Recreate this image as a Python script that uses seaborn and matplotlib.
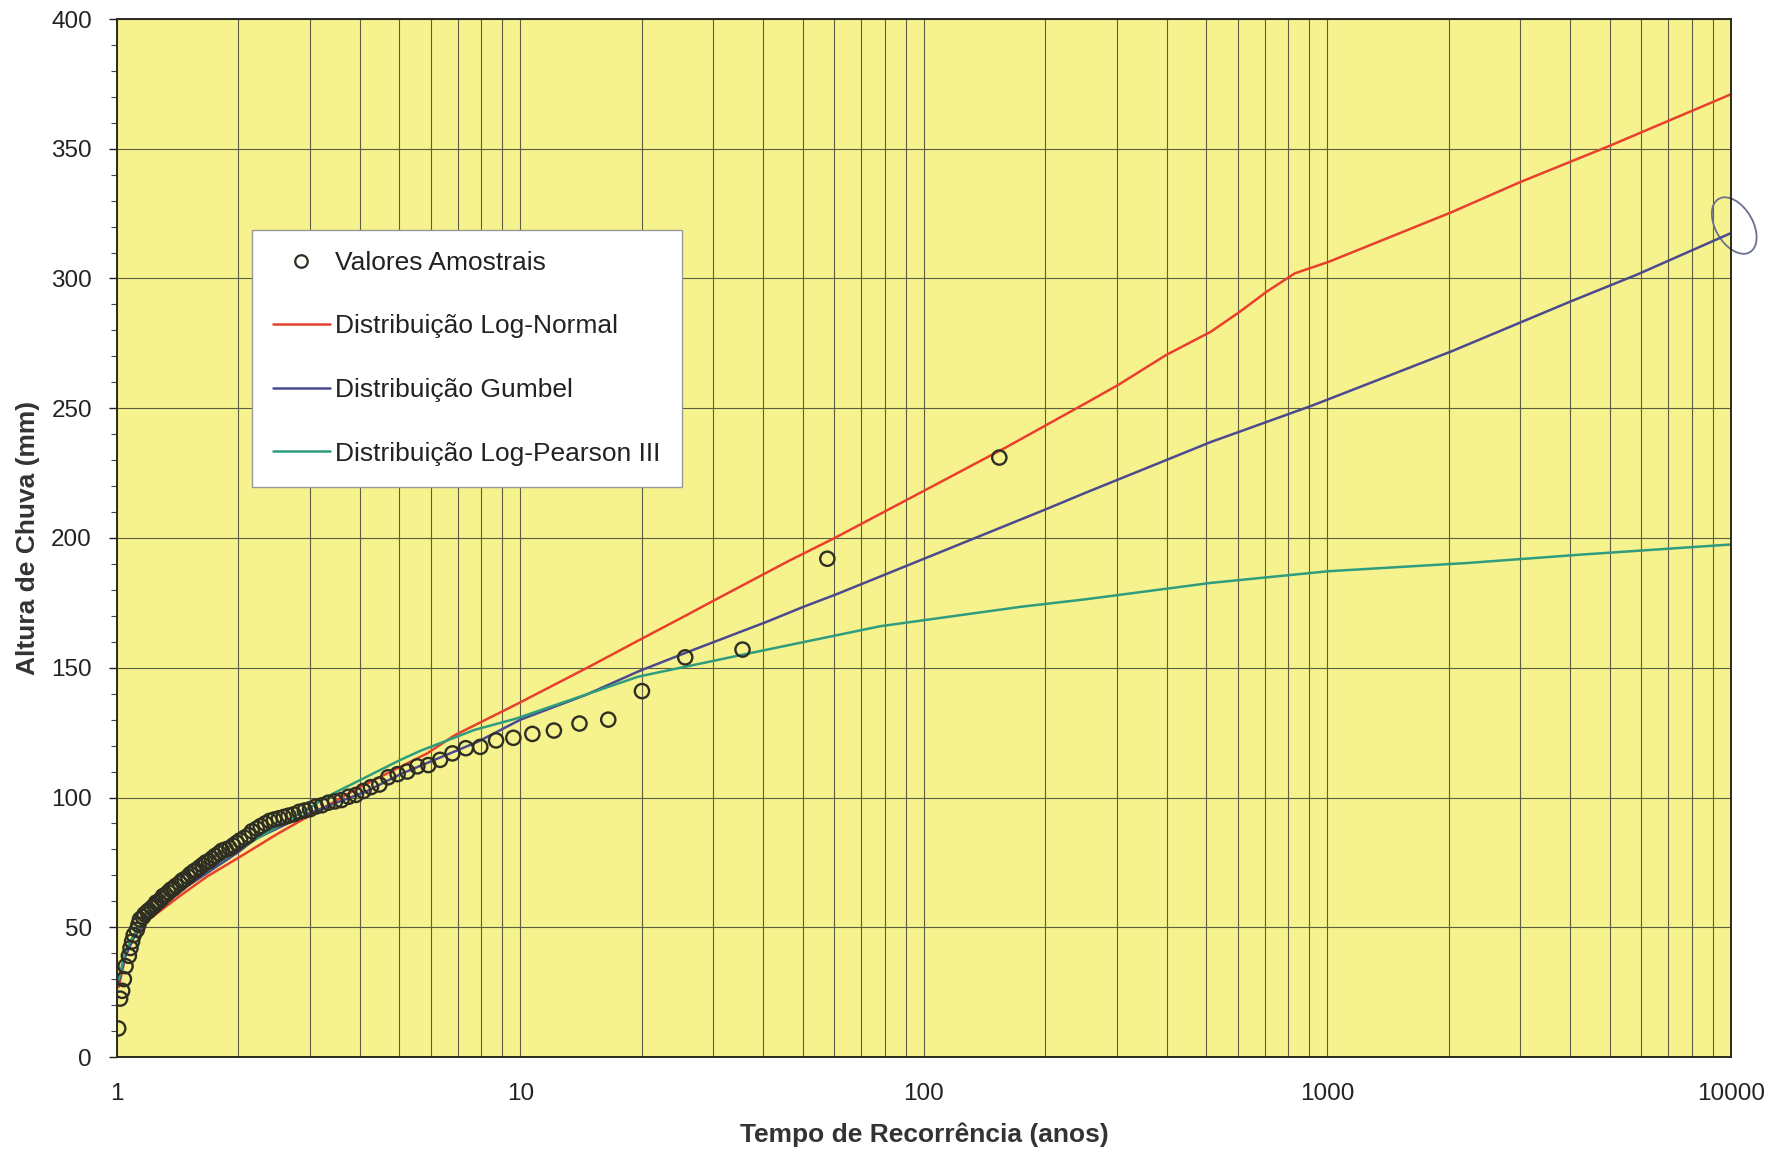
import matplotlib
matplotlib.use("Agg")
import matplotlib.pyplot as plt
import seaborn as sns
import numpy as np
import pandas as pd
from matplotlib.lines import Line2D
from matplotlib.patches import Ellipse
from matplotlib.ticker import FixedLocator, NullFormatter, FuncFormatter

# ---------------- data ----------------
# sample values (return period in years, rainfall depth in mm)
sample_T = [153.7, 57.6, 35.5, 25.6, 20.0, 16.5, 14.0, 12.1, 10.7, 9.6,
            8.70, 7.95, 7.32, 6.78, 6.32, 5.91, 5.55, 5.24, 4.96, 4.70,
            4.47, 4.26, 4.08, 3.91, 3.75, 3.60, 3.47, 3.34, 3.22, 3.11,
            3.01, 2.92, 2.83, 2.74, 2.66, 2.59, 2.52, 2.45, 2.39, 2.33,
            2.27, 2.22, 2.16, 2.12, 2.07, 2.02, 1.98, 1.94, 1.90, 1.86,
            1.82, 1.79, 1.75, 1.72, 1.69, 1.66, 1.63, 1.60, 1.57, 1.55,
            1.52, 1.50, 1.47, 1.45, 1.43, 1.40, 1.38, 1.36, 1.34, 1.32,
            1.30, 1.29, 1.27, 1.25, 1.24, 1.22, 1.20, 1.19, 1.17, 1.16,
            1.14, 1.13, 1.12, 1.10, 1.09, 1.08, 1.07, 1.05, 1.04, 1.03,
            1.018, 1.007]
sample_P = [231, 192, 157, 154, 141, 130, 128.5, 125.8, 124.5, 123,
            122, 119.5, 119, 117, 114.5, 112.5, 112, 110, 109, 107.8,
            105, 104, 102.5, 101, 100.3, 99, 98.5, 98, 97, 96.5,
            95.5, 95, 94.5, 93.5, 93, 92.5, 92, 91.5, 91, 90,
            89, 88, 87, 85.5, 84.5, 83.5, 82.5, 81.5, 80.5, 80,
            79.5, 78.5, 77.5, 76.5, 75.5, 75, 74, 73, 72, 71.5,
            70.5, 69.5, 68.5, 68, 67, 66, 65, 64.5, 63.5, 62.5,
            62, 61, 60, 59.5, 58.5, 57.5, 56.5, 56, 55, 54,
            53, 51, 49, 47, 44.5, 42, 39, 35, 30, 25.5,
            22.5, 11]

# Log-Normal distribution
ln_T = [1.01, 1.05, 1.1, 1.2, 1.43, 1.67, 2.06, 2.5, 3, 4, 5.87, 6.87, 9.8,
        14.8, 19.6, 25.6, 29.8, 46, 60.4, 100, 160, 252, 303, 398, 514, 604,
        708, 830, 1006, 2034, 2987, 4980, 10000]
ln_P = [27, 39, 46, 53, 62, 69.5, 78, 86, 93, 104, 117, 124, 136,
        150.4, 160.5, 170, 175.5, 191, 200.2, 218.2, 235, 252, 259, 270.5, 279.5, 287,
        295, 302, 306.4, 325.6, 337, 351, 371]

# Gumbel distribution
gu_T = [1.01, 1.05, 1.1, 1.2, 1.5, 2, 2.2, 3, 4.17, 5.04, 7.84, 10, 14.5,
        19.6, 26.1, 40.6, 50.3, 60.4, 100, 200, 252, 514, 915, 2034, 3981,
        5848, 10000]
gu_P = [29, 39, 46, 54, 66, 79, 84, 94, 102.5, 109, 121.5, 130, 139.5,
        148.6, 156.2, 167.6, 173.5, 178.2, 192, 211, 217.5, 237, 251, 272, 291,
        301.5, 317.5]

# Log-Pearson III distribution
lp_T = [1.01, 1.05, 1.1, 1.2, 1.5, 2, 3, 3.44, 5.04, 5.65, 7.67, 9.8, 10.9,
        19.6, 37, 77.9, 174, 252, 514, 1006, 2239, 4246, 10000]
lp_P = [30, 41, 47, 55, 67, 80, 96, 101.6, 114.5, 118, 126, 130.5, 133,
        146.6, 155.6, 166, 173.5, 176.4, 182.7, 187.2, 190.4, 193.6, 197.5]

labels = ["Valores Amostrais", "Distribuição Log-Normal",
          "Distribuição Gumbel", "Distribuição Log-Pearson III"]
x_major = [1, 10, 100, 1000, 10000]
y_ticks = [0, 50, 100, 150, 200, 250, 300, 350, 400]

# ---------------- style ----------------
sns.set_theme(style="white")
plt.rcParams['font.family'] = ['Liberation Sans', 'DejaVu Sans']

c_red = "#e8402c"
c_blue = "#4c4a8e"
c_green = "#2f9c7e"
c_pts = "#2e2e22"
c_grid = "#5e5e44"
c_bg = "#f6f38e"

W, H = 1781, 1155
fig = plt.figure(figsize=(W / 100, H / 100), dpi=100, facecolor="white")
ax = fig.add_axes([117 / W, 1 - 1057 / H, 1614 / W, 1038 / H])
ax.set_facecolor(c_bg)

ax.set_xscale("log")
ax.set_xlim(1, 10000)
ax.set_ylim(0, 400)

# grid
minor_x = [m * 10 ** d for d in range(4) for m in range(2, 10)]
ax.xaxis.set_major_locator(FixedLocator(x_major))
ax.xaxis.set_minor_locator(FixedLocator(minor_x))
ax.xaxis.set_minor_formatter(NullFormatter())
ax.xaxis.set_major_formatter(FuncFormatter(lambda v, p: f"{int(round(v))}"))
ax.yaxis.set_major_locator(FixedLocator(y_ticks))
ax.yaxis.set_minor_locator(FixedLocator(list(range(0, 401, 10))))
ax.grid(True, which="both", axis="x", color=c_grid, lw=0.8)
ax.grid(True, which="major", axis="y", color=c_grid, lw=0.8)
ax.set_axisbelow(True)

# curves
sns.lineplot(x=ln_T, y=ln_P, ax=ax, color=c_red, lw=1.8, sort=False, estimator=None)
sns.lineplot(x=gu_T, y=gu_P, ax=ax, color=c_blue, lw=1.8, sort=False, estimator=None)
sns.lineplot(x=lp_T, y=lp_P, ax=ax, color=c_green, lw=1.8, sort=False, estimator=None)

# sample points
sns.scatterplot(x=sample_T, y=sample_P, ax=ax, marker="o", s=105,
                facecolor="none", edgecolor=c_pts, linewidth=1.7, zorder=5)

# ticks
ax.tick_params(axis="x", which="both", length=0, pad=19, labelsize=17.5, colors="#222222")
ax.tick_params(axis="y", which="major", direction="out", length=6, width=1, pad=12,
               labelsize=17.5, colors="#222222", left=True)
ax.tick_params(axis="y", which="minor", direction="out", length=4, width=0.8,
               color="#444444", left=True)
for s in ax.spines.values():
    s.set_color("#2a2a20")
    s.set_linewidth(1.4)

ax.set_xlabel("Tempo de Recorrência (anos)", fontsize=19, fontweight="bold",
              color="#333333", labelpad=12)
ax.set_ylabel("Altura de Chuva (mm)", fontsize=19, fontweight="bold",
              color="#333333", labelpad=8)

# legend
handles = [
    Line2D([], [], ls="none", marker="o", markersize=9, markerfacecolor="none",
           markeredgecolor=c_pts, markeredgewidth=1.6),
    Line2D([], [], color=c_red, lw=1.8),
    Line2D([], [], color=c_blue, lw=1.8),
    Line2D([], [], color=c_green, lw=1.8),
]
leg = ax.legend(handles, labels, loc="upper left", bbox_to_anchor=(0.0836, 0.797),
                borderaxespad=0, fontsize=19, frameon=True, fancybox=False,
                labelspacing=1.5, handlelength=2.15, handletextpad=0.2,
                borderpad=0.8, framealpha=1)
leg.get_frame().set_facecolor("white")
leg.get_frame().set_edgecolor("#999999")
leg.get_frame().set_linewidth(1.0)
for t in leg.get_texts():
    t.set_color("#222222")

# hand-drawn ellipse around the end of the Gumbel curve
ell = Ellipse((1.002, 0.801), 0.0245, 0.056, angle=15, transform=ax.transAxes,
              fill=False, edgecolor="#6a7090", lw=1.3, clip_on=False)
ax.add_patch(ell)

fig.savefig("out.png", dpi=100, facecolor="white")
